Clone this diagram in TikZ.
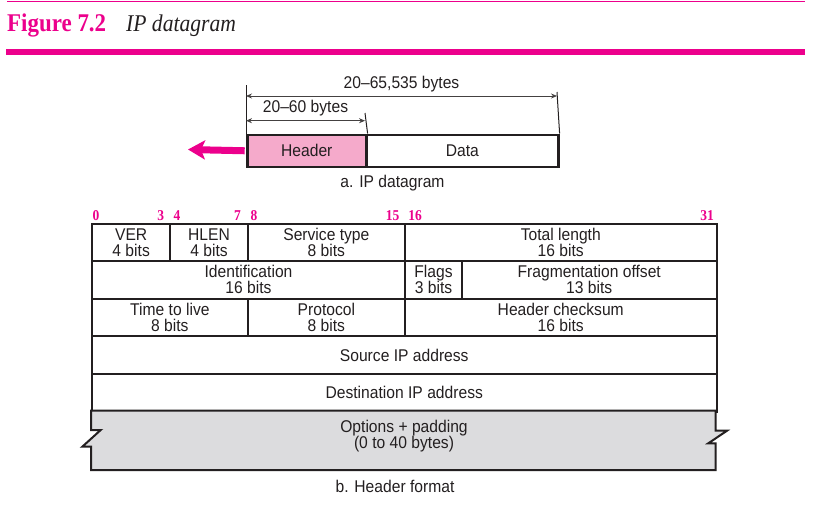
\documentclass[tikz,border=0pt]{standalone}
\usepackage{fontspec}
\setmainfont{Liberation Sans}[FakeStretch=0.92]
\newfontfamily\figfont{Liberation Serif}[FakeStretch=0.9]
\usetikzlibrary{arrows.meta, positioning}
\definecolor{IPmagenta}{RGB}{236, 0, 140}
\definecolor{IPpink}{RGB}{245, 170, 203}
\definecolor{IPgray}{RGB}{220, 220, 222}
\definecolor{IPink}{RGB}{35, 31, 32}
\newcommand{\fieldfont}{\fontsize{17}{16}\selectfont}
\newcommand{\bitfont}{\figfont\bfseries\fontsize{15}{15}\selectfont}
\tikzset{
    fieldbox/.style={
        draw=IPink, line width=2pt, anchor=north west, minimum height=37.6pt,
        inner sep=0pt, align=center, font=\fieldfont, text=IPink
    },
    databox/.style={
        draw=IPink, line width=2.6pt, anchor=north west, minimum height=32pt,
        inner sep=0pt, font=\fieldfont, text=IPink
    },
    bitnum/.style={font=\bitfont, text=IPmagenta, anchor=base},
    caption/.style={font=\fieldfont, text=IPink, anchor=base},
    dimarrow/.style={{Stealth[length=6pt, width=5pt]}-{Stealth[length=6pt, width=5pt]}, line width=0.8pt, color=IPink!85},
    tickline/.style={line width=1pt, color=IPink},
}

\begin{document}
\begin{tikzpicture}[x=1pt, y=-1pt]
    \useasboundingbox (0, 0) rectangle (818, 514);

    % Title
    \draw[IPmagenta, line width=1pt] (7, 1.7) -- (805, 1.7);
    \fill[IPmagenta] (6, 49) rectangle (805, 55);
    \node[anchor=base west, inner sep=0pt, text=IPmagenta, font=\figfont\bfseries\fontsize{25.5}{30}\selectfont] (fignum) at (7, 31.7) {Figure 7.2};
    \node[anchor=base west, inner sep=0pt, text=IPink, font=\figfont\itshape\fontsize{24}{30}\selectfont] (figtitle) at (126, 31.7) {IP datagram};

    % Datagram
    \node[databox, fill=IPpink, minimum width=119pt] (header) at (246, 133.5) {Header};
    \node[databox, fill=white, minimum width=192pt] (data) at (365, 133.5) {Data};
    \coordinate (exit) at (188, 149.5);
    \draw[IPmagenta, line width=7pt, -{Stealth[length=17pt, width=19pt, inset=4pt]}, shorten <=1.3pt] (header.west) -- (exit);

    % Dimensions
    \coordinate (totL) at (246, 85);
    \coordinate (hdrR) at (365, 113);
    \coordinate (totR) at (557, 92);
    \draw[tickline] (header.north west) -- (totL);
    \draw[tickline] (header.north east) -- (hdrR);
    \draw[tickline] (data.north east) -- (totR);
    \coordinate (totA) at (246, 96);
    \coordinate (totB) at (557, 96);
    \coordinate (hdrA) at (246, 120.7);
    \coordinate (hdrB) at (365, 120.7);
    \draw[dimarrow] (totA) -- (totB);
    \draw[dimarrow] (hdrA) -- (hdrB);
    \node[caption] (totlabel) at (401.5, 88.3) {20--65,535 bytes};
    \node[caption] (hdrlabel) at (305.5, 112.3) {20--60 bytes};
    \node[caption] (capa) at (392.5, 187) {a. IP datagram};

    % Bit positions
    \node[bitnum] (b0) at (96, 220.5) {0};
    \node[bitnum] (b3) at (160.7, 220.5) {3};
    \node[bitnum] (b4) at (177, 220.5) {4};
    \node[bitnum] (b7) at (237.5, 220.5) {7};
    \node[bitnum] (b8) at (254, 220.5) {8};
    \node[bitnum] (b15) at (392.7, 220.5) {15};
    \node[bitnum] (b16) at (415, 220.5) {16};
    \node[bitnum] (b31) at (707, 220.5) {31};

    % Header fields
    \node[fieldbox, minimum width=78.3pt] (ver) at (91, 222.5) {VER\\4 bits};
    \node[fieldbox, minimum width=77.4pt] (hlen) at (169.3, 222.5) {HLEN\\4 bits};
    \node[fieldbox, minimum width=157.3pt] (tos) at (246.7, 222.5) {Service type\\8 bits};
    \node[fieldbox, minimum width=311.5pt] (totlen) at (404, 222.5) {Total length\\16 bits};
    \node[fieldbox, minimum width=313pt] (ident) at (91, 260.1) {Identification\\16 bits};
    \node[fieldbox, minimum width=57pt] (flags) at (404, 260.1) {Flags\\3 bits};
    \node[fieldbox, minimum width=254.5pt] (fragoff) at (461, 260.1) {Fragmentation offset\\13 bits};
    \node[fieldbox, minimum width=155.7pt] (ttl) at (91, 297.7) {Time to live\\8 bits};
    \node[fieldbox, minimum width=157.3pt] (proto) at (246.7, 297.7) {Protocol\\8 bits};
    \node[fieldbox, minimum width=311.5pt] (checksum) at (404, 297.7) {Header checksum\\16 bits};
    \node[fieldbox, minimum width=624.5pt] (srcip) at (91, 335.3) {Source IP address};
    \node[fieldbox, minimum width=624.5pt] (dstip) at (91, 372.9) {Destination IP address};

    % Options with broken sides
    \draw[IPink, line width=2pt, fill=IPgray, line join=miter]
        (91, 410.5) -- (91, 430) -- (100.7, 430) -- (82.3, 446.7) -- (91, 446.7) -- (91, 470)
        -- (715.5, 470) -- (715.5, 443.3) -- (708.3, 443.3) -- (727, 430.7) -- (715.5, 430.7)
        -- (715.5, 410.5) -- cycle;
    \node[align=center, font=\fieldfont, text=IPink] (options) at (404, 436) {Options + padding\\(0 to 40 bytes)};
    \node[caption] (capb) at (395, 492) {b. Header format};
\end{tikzpicture}
\end{document}
